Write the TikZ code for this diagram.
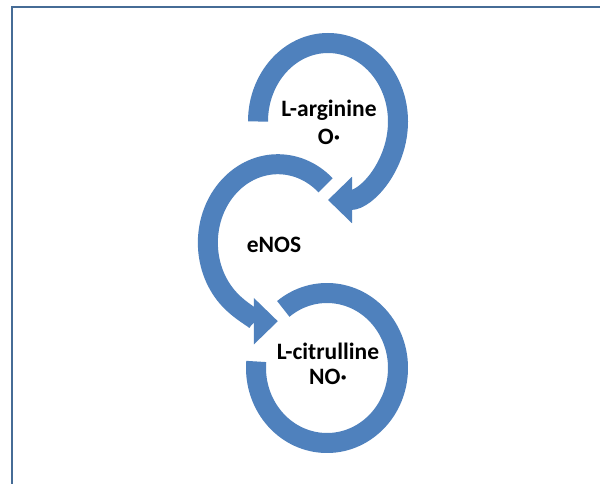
\documentclass[tikz,border=0pt]{standalone}
\usepackage{fontspec}
\setmainfont{Carlito}
\usetikzlibrary{arrows.meta}
\definecolor{arcblue}{RGB}{79,129,189}
\definecolor{framecol}{RGB}{70,108,150}
\begin{document}
\begin{tikzpicture}[x=1pt,y=1pt,
  band/.style={draw=arcblue, line width=20pt},
  bandarrow/.style={band, -{Triangle[width=45pt,length=24pt]}},
  lbl/.style={font=\bfseries\fontsize{23.5}{28}\selectfont, align=center, text=black, inner sep=0pt}]
\useasboundingbox (0,0) rectangle (600,483);
\fill[white] (0,0) rectangle (600,483);
\begin{scope}
\clip (0,0) rectangle (600,483);
\draw[framecol, line width=2pt] (11.5,-5) -- (11.5,475.5) -- (605,475.5);
\end{scope}
\draw[bandarrow] (258,361.5) arc[start angle=180, end angle=-90, x radius=70, y radius=78.5];
\draw[bandarrow] (325.6,297.7) arc[start angle=47, end angle=270, x radius=70, y radius=78.5];
\draw[band] (283.29,174.1) arc[start angle=128, end angle=-185, x radius=71, y radius=75];
\node[lbl] (arg) at (329,361) {L-arginine\\O·};
\node[lbl] (enos) at (274,238) {eNOS};
\node[lbl, font=\bfseries\fontsize{23.5}{25}\selectfont] (cit) at (328,119) {L-citrulline\\NO·};
\end{tikzpicture}
\end{document}
